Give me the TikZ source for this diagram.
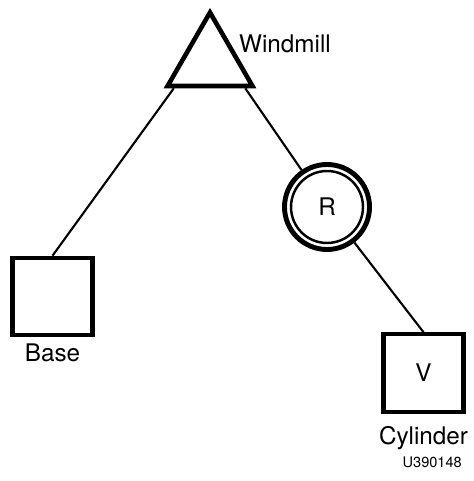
\documentclass[tikz,border=0pt]{standalone}
\usepackage{fontspec}
\setmainfont{TeX Gyre Heros}
\usetikzlibrary{calc,positioning,shapes.geometric}

\begin{document}
\begin{tikzpicture}[every node/.style={font=\fontsize{13.8}{16}\selectfont},
    part/.style={rectangle,draw,line width=2.3pt,minimum width=1.6cm,minimum height=1.55cm,inner sep=0pt},
    link/.style={line width=1.2pt}]
  \useasboundingbox (0,0) rectangle (9.48,9.62);
  \node[regular polygon,regular polygon sides=3,draw,line width=2.6pt,minimum size=1.96cm,inner sep=0pt] (mill) at (4.2,8.39) {};
  \node[anchor=west] (milllbl) at (4.66,8.74) {Windmill};
  \node[part] (base) at (1.05,3.69) {};
  \node[below=0pt of base] (baselbl) {Base};
  \node[circle,draw,line width=2.8pt,minimum size=1.7cm,inner sep=0pt] (rot) at (6.54,5.48) {R};
  \node[circle,draw,line width=1.4pt,minimum size=1.44cm] (rotin) at (rot.center) {};
  \node[part] (cyl) at (8.47,2.16) {V};
  \node[below=0.12cm of cyl] (cyllbl) {Cylinder};
  \node[anchor=east,font=\fontsize{8.3}{10}\selectfont] (tag) at (9.36,0.38) {U390148};
  \draw[link] ($(mill.corner 2)!.11!(mill.corner 3)$) -- (base.north);
  \draw[link] ($(mill.corner 2)!.88!(mill.corner 3)$) -- (rot);
  \draw[link] (rot) -- (cyl.north);
\end{tikzpicture}
\end{document}
